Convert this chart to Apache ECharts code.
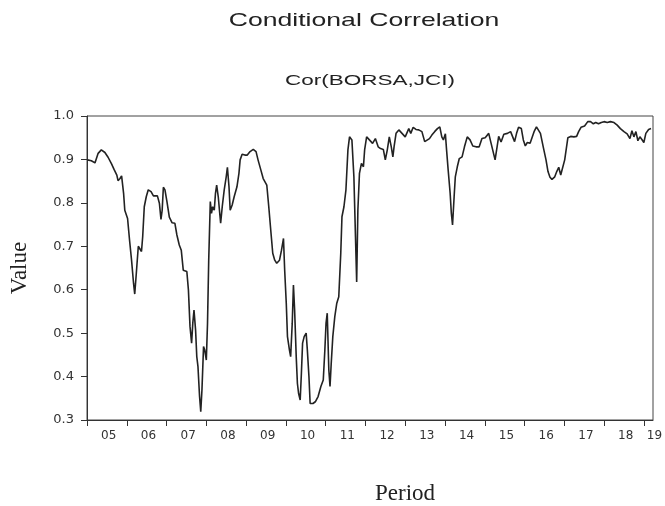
<!DOCTYPE html>
<html>
<head>
<meta charset="utf-8">
<script src="https://cdn.jsdelivr.net/npm/echarts@6/dist/echarts.min.js"></script>
<style>
  html, body { margin: 0; padding: 0; background: #fff; }
  #chart { width: 665px; height: 506px; }
</style>
</head>
<body>
<div id="chart"></div>
<script>
// decimal year of each observation
const periods = [
  2005.01, 2005.11, 2005.20, 2005.28, 2005.36, 2005.45, 2005.53, 2005.62, 2005.68, 2005.75, 2005.78, 2005.83, 2005.87, 2005.92, 2005.95,
  2006.02, 2006.07, 2006.12, 2006.17, 2006.20, 2006.24, 2006.29, 2006.32, 2006.37, 2006.40, 2006.44, 2006.49, 2006.54, 2006.61, 2006.67, 2006.72, 2006.77, 2006.82, 2006.86, 2006.89, 2006.92, 2006.96,
  2007.01, 2007.07, 2007.14, 2007.21, 2007.26, 2007.32, 2007.37, 2007.42, 2007.51, 2007.55, 2007.59, 2007.63, 2007.66, 2007.69, 2007.73, 2007.76, 2007.79, 2007.83, 2007.86, 2007.89, 2007.93, 2007.96,
  2008.00, 2008.03, 2008.06, 2008.10, 2008.13, 2008.16, 2008.20, 2008.23, 2008.26, 2008.30, 2008.33, 2008.36, 2008.40, 2008.45, 2008.50, 2008.53, 2008.57, 2008.60, 2008.65, 2008.70, 2008.77, 2008.82, 2008.85, 2008.90, 2008.97,
  2009.03, 2009.10, 2009.18, 2009.25, 2009.30, 2009.37, 2009.43, 2009.52, 2009.57, 2009.62, 2009.67, 2009.72, 2009.77, 2009.84, 2009.89, 2009.94, 2009.97,
  2010.01, 2010.04, 2010.09, 2010.12, 2010.16, 2010.19, 2010.22, 2010.26, 2010.29, 2010.32, 2010.36, 2010.39, 2010.42, 2010.46, 2010.51, 2010.54, 2010.58, 2010.61, 2010.68, 2010.74, 2010.81, 2010.88, 2010.94, 2010.98,
  2011.01, 2011.04, 2011.08, 2011.11, 2011.14, 2011.18, 2011.23, 2011.28, 2011.33, 2011.38, 2011.41, 2011.46, 2011.51, 2011.56, 2011.60, 2011.66, 2011.71, 2011.75, 2011.78, 2011.81, 2011.85, 2011.90, 2011.95, 2011.98,
  2012.03, 2012.10, 2012.18, 2012.25, 2012.32, 2012.38, 2012.45, 2012.50, 2012.55, 2012.60, 2012.65, 2012.69, 2012.72, 2012.77, 2012.84, 2012.92,
  2013.00, 2013.09, 2013.14, 2013.20, 2013.27, 2013.34, 2013.42, 2013.49, 2013.54, 2013.61, 2013.67, 2013.74, 2013.81, 2013.87, 2013.92, 2013.96,
  2014.01, 2014.04, 2014.08, 2014.13, 2014.16, 2014.19, 2014.23, 2014.26, 2014.31, 2014.36, 2014.43, 2014.49, 2014.56, 2014.63, 2014.70, 2014.78, 2014.86, 2014.93,
  2015.01, 2015.10, 2015.16, 2015.21, 2015.26, 2015.31, 2015.35, 2015.41, 2015.48, 2015.57, 2015.65, 2015.70, 2015.75, 2015.80, 2015.85, 2015.92, 2015.97,
  2016.02, 2016.07, 2016.14, 2016.19, 2016.24, 2016.30, 2016.35, 2016.40, 2016.47, 2016.54, 2016.59, 2016.64, 2016.69, 2016.76, 2016.81, 2016.86, 2016.91, 2016.96,
  2017.01, 2017.09, 2017.16, 2017.24, 2017.31, 2017.36, 2017.42, 2017.51, 2017.59, 2017.66, 2017.73, 2017.79, 2017.86, 2017.93,
  2018.00, 2018.08, 2018.16, 2018.25, 2018.33, 2018.41, 2018.50, 2018.58, 2018.65, 2018.70, 2018.75, 2018.80, 2018.85, 2018.90, 2018.95,
  2019.00, 2019.05, 2019.12, 2019.18
]

// Cor(BORSA,JCI)
const corr = [
  0.899, 0.897, 0.892, 0.914, 0.922, 0.916, 0.905, 0.889, 0.877, 0.864, 0.851, 0.856, 0.862, 0.822, 0.783,
  0.764, 0.714, 0.668, 0.615, 0.590, 0.638, 0.700, 0.698, 0.688, 0.722, 0.791, 0.814, 0.830, 0.826, 0.816, 0.813, 0.816, 0.799, 0.762, 0.783, 0.836, 0.830,
  0.803, 0.767, 0.754, 0.753, 0.726, 0.703, 0.691, 0.645, 0.642, 0.599, 0.515, 0.477, 0.523, 0.553, 0.507, 0.446, 0.423, 0.354, 0.319, 0.369, 0.469, 0.461,
  0.438, 0.523, 0.668, 0.803, 0.776, 0.791, 0.783, 0.822, 0.841, 0.814, 0.783, 0.753, 0.791, 0.830, 0.860, 0.882, 0.837, 0.783, 0.795, 0.814, 0.837, 0.868, 0.899, 0.912, 0.910,
  0.910, 0.918, 0.923, 0.918, 0.899, 0.876, 0.856, 0.841, 0.791, 0.737, 0.684, 0.668, 0.661, 0.668, 0.691, 0.718, 0.645,
  0.569, 0.492, 0.461, 0.446, 0.523, 0.611, 0.553, 0.446, 0.384, 0.361, 0.346, 0.407, 0.477, 0.492, 0.500, 0.461, 0.400, 0.338, 0.338, 0.342, 0.354, 0.377, 0.392, 0.461,
  0.523, 0.546, 0.415, 0.377, 0.430, 0.492, 0.538, 0.569, 0.584, 0.684, 0.768, 0.791, 0.830, 0.922, 0.952, 0.945, 0.860, 0.722, 0.618, 0.783, 0.868, 0.891, 0.883, 0.922,
  0.952, 0.945, 0.937, 0.948, 0.929, 0.925, 0.923, 0.899, 0.922, 0.952, 0.929, 0.906, 0.929, 0.960, 0.968, 0.960,
  0.952, 0.971, 0.960, 0.974, 0.969, 0.968, 0.964, 0.941, 0.937, 0.948, 0.956, 0.964, 0.971, 0.975, 0.952, 0.945,
  0.959, 0.922, 0.876, 0.822, 0.776, 0.749, 0.814, 0.860, 0.883, 0.902, 0.906, 0.929, 0.952, 0.945, 0.931, 0.929, 0.929, 0.948,
  0.950, 0.960, 0.937, 0.918, 0.899, 0.929, 0.953, 0.940, 0.958, 0.960, 0.964, 0.968, 0.941, 0.960, 0.974, 0.971, 0.945,
  0.931, 0.939, 0.937, 0.941, 0.964, 0.975, 0.977, 0.960, 0.929, 0.899, 0.872, 0.859, 0.854, 0.860, 0.872, 0.882, 0.864, 0.860,
  0.899, 0.950, 0.953, 0.952, 0.953, 0.964, 0.974, 0.977, 0.987, 0.987, 0.982, 0.985, 0.982, 0.985,
  0.987, 0.985, 0.987, 0.985, 0.979, 0.971, 0.964, 0.959, 0.948, 0.966, 0.952, 0.964, 0.943, 0.952, 0.946,
  0.939, 0.960, 0.969, 0.971
]

// year boundaries carrying ticks and labels
const yearTicks = [2005, 2006, 2007, 2008, 2009, 2010, 2011, 2012, 2013, 2014, 2015, 2016, 2017, 2018, 2019]

const myChart = echarts.init(document.getElementById('chart'))

const seriesData = periods.map((t, i) => [t, corr[i]])

const option = {
  backgroundColor: '#fff',
  animation: false,
  // the source picture is stretched sideways, so the headings are widened too
  graphic: [
    {
      type: 'text',
      x: 364,
      y: 21,
      scaleX: 1.4,
      style: {
        text: 'Conditional Correlation',
        font: '19px "Liberation Sans"',
        fill: '#222',
        align: 'center',
        verticalAlign: 'middle'
      }
    },
    {
      type: 'text',
      x: 370,
      y: 81,
      scaleX: 1.5,
      style: {
        text: 'Cor(BORSA,JCI)',
        font: '15px "Liberation Sans"',
        fill: '#222',
        align: 'center',
        verticalAlign: 'middle'
      }
    }
  ],
  grid: {
    left: 87,
    right: 12,
    top: 116,
    bottom: 86,
    show: true,
    borderColor: '#444',
    borderWidth: 1,
    outerBoundsMode: 'none'
  },
  xAxis: {
    type: 'value',
    min: 2005,
    max: 2019.23,
    name: 'Period',
    nameLocation: 'middle',
    nameGap: 62,
    nameTextStyle: { fontFamily: 'Liberation Serif', fontSize: 23, color: '#222', padding: [0, 0, 0, 70] },
    axisLine: { lineStyle: { color: '#333', width: 1 } },
    axisTick: { show: true, inside: false, length: 6, customValues: yearTicks, lineStyle: { color: '#333' } },
    axisLabel: {
      customValues: yearTicks,
      formatter: v => (v >= 2019 ? '{e|' : '{n|') + String(Math.round(v)).slice(2) + '}',
      align: 'left',
      margin: 10,
      rich: {
        n: { fontFamily: 'DejaVu Sans', fontSize: 12, color: '#333', padding: [0, 0, 0, 14] },
        e: { fontFamily: 'DejaVu Sans', fontSize: 12, color: '#333', padding: [0, 0, 0, 3] }
      }
    },
    splitLine: { show: false }
  },
  yAxis: {
    type: 'value',
    min: 0.3,
    max: 1.0,
    interval: 0.1,
    name: 'Value',
    nameLocation: 'middle',
    nameRotate: 90,
    nameGap: 56,
    nameTextStyle: { fontFamily: 'Liberation Serif', fontSize: 23, color: '#222' },
    axisLine: { show: true, lineStyle: { color: '#333', width: 1 } },
    axisTick: { show: true, inside: false, length: 6, lineStyle: { color: '#333' } },
    axisLabel: {
      formatter: v => v.toFixed(1),
      margin: 13,
      fontFamily: 'DejaVu Sans',
      fontSize: 13,
      color: '#333'
    },
    splitLine: { show: false }
  },
  series: [
    {
      name: 'Cor(BORSA,JCI)',
      type: 'line',
      data: seriesData,
      showSymbol: false,
      smooth: false,
      lineStyle: { color: '#222', width: 1.6 }
    }
  ]
}

myChart.setOption(option)
</script>
</body>
</html>
